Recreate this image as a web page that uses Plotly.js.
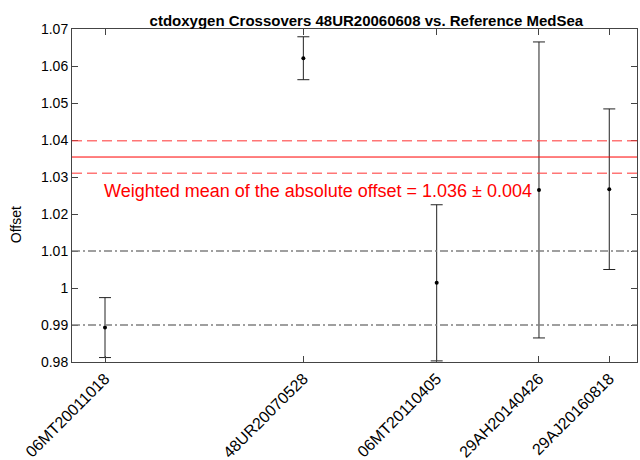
<!DOCTYPE html>
<html>
<head>
<meta charset="utf-8">
<script src="https://cdn.plot.ly/plotly-3.0.1.min.js"></script>
<style>html,body{margin:0;padding:0;background:#fff;}#chart{width:640px;height:460px;}</style>
</head>
<body>
<div id="chart"></div>
<script>
// Data
const cruises = ['06MT20011018', '48UR20070528', '06MT20110405', '29AH20140426', '29AJ20160818'];
const xPos = [2001.79, 2007.80, 2011.84, 2014.94, 2017.07];
const offsets = [0.9893, 1.0621, 1.0014, 1.0265, 1.0267];
const errors = [0.0081, 0.0058, 0.0211, 0.0400, 0.0217];
const weightedMean = 1.0354;
const weightedErr = 0.0044;
const thresholds = [0.99, 1.01];
const xRange = [2000.79, 2017.91];
const yRange = [0.98, 1.07];
const yTicks = [0.98, 0.99, 1, 1.01, 1.02, 1.03, 1.04, 1.05, 1.06, 1.07];
const yTickText = ['0.98', '0.99', '1', '1.01', '1.02', '1.03', '1.04', '1.05', '1.06', '1.07'];

const trace = {
  x: xPos, y: offsets, type: 'scatter', mode: 'markers',
  marker: {color: '#000', size: 4},
  error_y: {type: 'data', array: errors, visible: true, color: '#222', thickness: 1, width: 6},
  hoverinfo: 'skip', showlegend: false
};

const shapes = [];
thresholds.forEach(v => shapes.push({type: 'line', xref: 'paper', x0: 0, x1: 1, yref: 'y', y0: v, y1: v,
  line: {color: '#808080', width: 1.5, dash: '8px,3px,2px,3px'}}));
shapes.push({type: 'line', xref: 'paper', x0: 0, x1: 1, yref: 'y', y0: weightedMean, y1: weightedMean,
  line: {color: '#ff0000', width: 1}});
[weightedMean + weightedErr, weightedMean - weightedErr].forEach(v => shapes.push({type: 'line', xref: 'paper', x0: 0, x1: 1, yref: 'y', y0: v, y1: v,
  line: {color: 'rgba(255,60,60,0.7)', width: 1.5, dash: '10px,5px'}}));

const layout = {
  width: 640, height: 460,
  margin: {l: 72, r: 3, t: 29, b: 98},
  paper_bgcolor: '#fff', plot_bgcolor: '#fff',
  font: {family: 'Liberation Sans, Arial, sans-serif', color: '#000', size: 14},
  title: {text: '<b>ctdoxygen Crossovers 48UR20060608 vs. Reference MedSea</b>', font: {size: 15, color: '#000'},
    xref: 'paper', x: 0.521, xanchor: 'center', yref: 'paper', y: 1, yanchor: 'bottom', pad: {b: 3}},
  xaxis: {range: xRange, tickmode: 'array', tickvals: xPos, ticktext: cruises, tickangle: -45,
    ticks: 'inside', ticklen: 6, tickcolor: '#444', showline: true, linecolor: '#444', linewidth: 1,
    mirror: 'ticks', showgrid: false, zeroline: false, tickfont: {size: 16}, ticklabelstandoff: 0},
  yaxis: {range: yRange, tickmode: 'array', tickvals: yTicks, ticktext: yTickText,
    ticks: 'inside', ticklen: 6, tickcolor: '#444', showline: true, linecolor: '#444', linewidth: 1,
    mirror: 'ticks', showgrid: false, zeroline: false, tickfont: {size: 14}},
  shapes: shapes,
  annotations: [
    {xref: 'paper', x: 0.435, yref: 'y', y: 1.0262, text: 'Weighted mean of the absolute offset = 1.036 ± 0.004',
      showarrow: false, font: {color: '#ff0000', size: 18}, xanchor: 'center', yanchor: 'middle'},
    {xref: 'paper', x: -0.099, yref: 'paper', y: 0.411, text: 'Offset', textangle: -90,
      showarrow: false, font: {color: '#000', size: 14}, xanchor: 'center', yanchor: 'middle'}
  ]
};

Plotly.newPlot('chart', [trace], layout, {displayModeBar: false, staticPlot: true});
</script>
</body>
</html>
